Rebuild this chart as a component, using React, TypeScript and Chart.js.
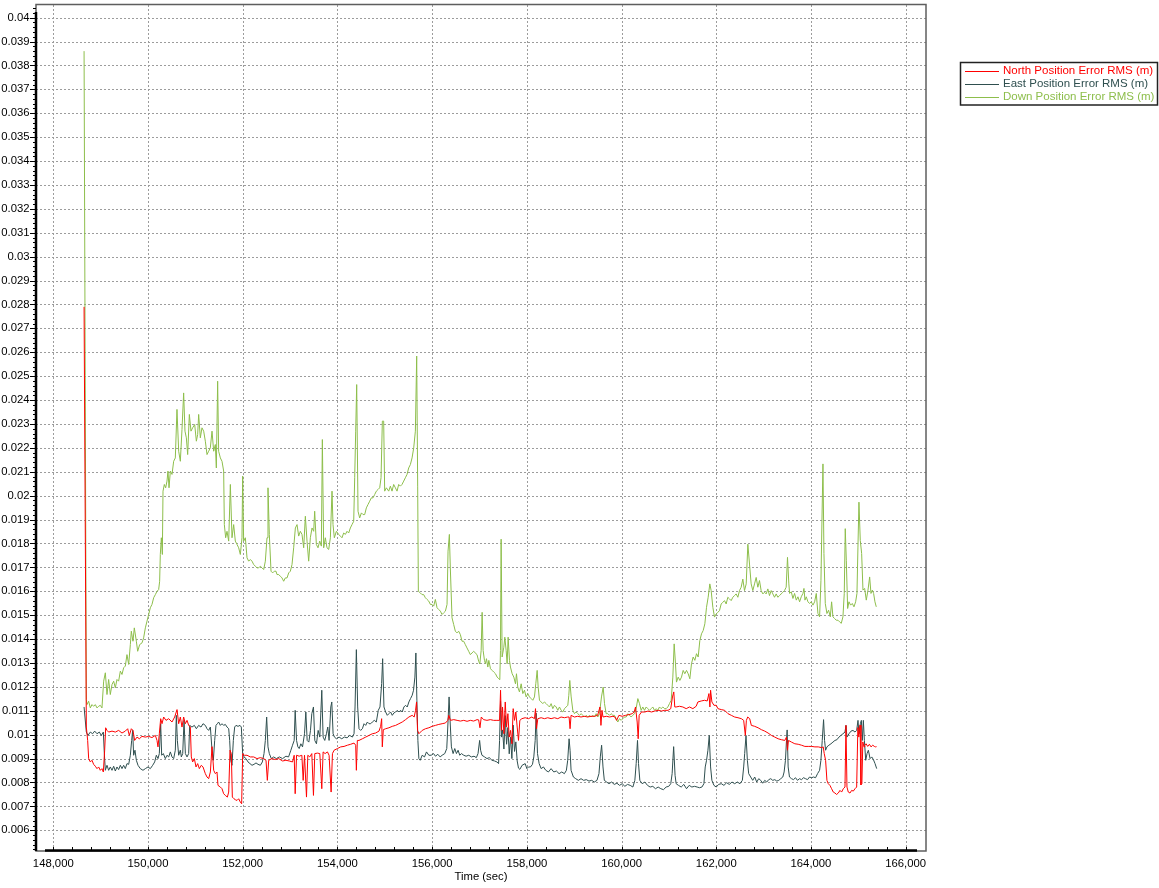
import { useEffect, useRef } from 'react';
import { Chart, registerables } from 'chart.js';

Chart.register(...registerables);

// ---- Data (time in seconds, RMS error in millimetres) ----
const northSamples: [number, number][] = [
  [148650, 27.9], [148698, 10.32], [148726, 9.76], [148747, 9.0], [148782, 8.86], [148817, 8.93], [148852, 8.76], [148888, 8.68],
  [148923, 8.58], [148958, 8.65], [148993, 8.51], [149028, 8.58], [149057, 8.44], [149085, 9.35], [149106, 10.29], [149134, 10.18],
  [149169, 10.11], [149240, 10.15], [149310, 10.11], [149380, 10.18], [149451, 10.07], [149521, 10.15], [149571, 10.25], [149606, 9.97],
  [149648, 10.25], [149683, 10.18], [149718, 9.76], [149768, 9.9], [149817, 9.83], [149873, 9.93], [149944, 9.9], [150014, 9.93],
  [150084, 9.88], [150155, 9.97], [150190, 9.76], [150211, 9.49], [150239, 10.04], [150268, 10.67], [150296, 10.46], [150331, 10.74],
  [150380, 10.6], [150437, 10.67], [150507, 10.53], [150563, 10.74], [150613, 11.05], [150648, 10.46], [150683, 10.74], [150718, 10.32],
  [150753, 10.74], [150789, 10.46], [150824, 10.6], [150859, 10.39], [150894, 10.32], [150915, 9.07], [150943, 8.86], [150979, 9.0],
  [151014, 8.65], [151049, 8.79], [151084, 8.58], [151126, 8.72], [151162, 8.65], [151211, 8.37], [151246, 8.23], [151281, 8.16],
  [151317, 8.44], [151352, 9.5], [151387, 8.51], [151422, 8.37], [151457, 8.44], [151478, 7.88], [151528, 7.81], [151563, 7.74],
  [151598, 7.53], [151633, 7.46], [151676, 7.39], [151704, 7.6], [151732, 9.35], [151760, 9.21], [151781, 7.39], [151816, 7.32],
  [151844, 7.28], [151880, 7.25], [151915, 7.32], [151950, 7.18], [151978, 7.11], [151999, 9.21], [152034, 9.14], [152091, 9.14],
  [152161, 9.07], [152232, 9.07], [152302, 9.0], [152373, 9.04], [152443, 9.0], [152492, 8.93], [152520, 8.09], [152549, 8.93],
  [152619, 9.0], [152689, 8.96], [152760, 9.0], [152842, 8.9], [152912, 8.93], [152982, 8.9], [153052, 8.86], [153087, 9.14],
  [153108, 7.53], [153137, 9.14], [153193, 9.1], [153249, 9.14], [153277, 8.09], [153305, 9.14], [153347, 7.39], [153375, 9.14],
  [153417, 9.07], [153459, 9.21], [153494, 7.46], [153522, 9.21], [153579, 9.23], [153628, 9.21], [153670, 7.74], [153698, 9.28],
  [153740, 9.21], [153789, 9.28], [153824, 9.14], [153867, 7.6], [153895, 9.21], [153930, 9.35], [154000, 9.42], [154070, 9.49],
  [154140, 9.51], [154211, 9.56], [154281, 9.6], [154351, 9.65], [154386, 9.56], [154400, 8.51], [154421, 9.76], [154456, 9.76],
  [154527, 9.83], [154597, 9.9], [154667, 9.97], [154737, 10.04], [154807, 10.07], [154878, 10.15], [154913, 10.35], [154934, 10.67],
  [154948, 9.49], [154969, 10.21], [155018, 10.25], [155088, 10.29], [155158, 10.35], [155229, 10.39], [155299, 10.46], [155369, 10.53],
  [155439, 10.63], [155509, 10.74], [155579, 10.81], [155621, 10.74], [155650, 11.02], [155671, 11.37], [155692, 10.18], [155720, 10.04],
  [155790, 10.18], [155860, 10.25], [155931, 10.29], [156000, 10.35], [156071, 10.39], [156141, 10.43], [156211, 10.46], [156281, 10.49],
  [156331, 10.6], [156352, 10.81], [156387, 10.6], [156457, 10.63], [156527, 10.6], [156597, 10.57], [156668, 10.6], [156738, 10.56],
  [156808, 10.6], [156878, 10.57], [156948, 10.63], [156982, 10.62], [157010, 10.29], [157038, 10.74], [157087, 10.63], [157158, 10.6],
  [157228, 10.63], [157298, 10.6], [157368, 10.6], [157424, 10.6], [157445, 11.86], [157466, 10.18], [157487, 11.16], [157516, 10.04],
  [157544, 11.37], [157572, 10.32], [157600, 10.88], [157628, 9.9], [157656, 10.18], [157684, 9.62], [157712, 11.09], [157740, 10.6],
  [157768, 10.95], [157796, 10.32], [157824, 9.76], [157852, 10.6], [157895, 10.67], [157965, 10.71], [158035, 10.67], [158105, 10.74],
  [158161, 10.67], [158183, 11.09], [158204, 10.25], [158232, 10.67], [158302, 10.71], [158372, 10.67], [158442, 10.71], [158512, 10.67],
  [158583, 10.71], [158653, 10.67], [158723, 10.74], [158793, 10.71], [158863, 10.74], [158892, 10.74], [158913, 10.25], [158934, 10.81],
  [159004, 10.74], [159074, 10.77], [159144, 10.74], [159214, 10.77], [159284, 10.74], [159355, 10.77], [159425, 10.77], [159495, 10.81],
  [159544, 11.16], [159565, 10.39], [159587, 11.02], [159608, 10.74], [159678, 10.77], [159748, 10.74], [159818, 10.77], [159860, 10.74],
  [159895, 10.6], [159944, 10.81], [160014, 10.77], [160084, 10.81], [160155, 10.84], [160225, 10.88], [160267, 10.95], [160295, 11.16],
  [160330, 10.53], [160351, 9.83], [160372, 10.81], [160421, 10.95], [160492, 10.95], [160562, 10.99], [160632, 10.95], [160702, 10.99],
  [160773, 11.02], [160843, 10.99], [160913, 11.02], [160983, 11.02], [161039, 11.09], [161075, 11.58], [161103, 11.79], [161124, 11.16],
  [161153, 11.16], [161223, 11.19], [161294, 11.16], [161365, 11.09], [161435, 11.16], [161506, 11.09], [161576, 11.19], [161612, 11.37],
  [161682, 11.41], [161753, 11.44], [161809, 11.41], [161845, 11.72], [161866, 11.16], [161880, 11.86], [161908, 11.37], [161951, 11.23],
  [162000, 11.23], [162035, 11.09], [162106, 11.05], [162177, 11.02], [162247, 10.88], [162318, 10.81], [162388, 10.74], [162459, 10.71],
  [162530, 10.67], [162579, 10.6], [162614, 9.97], [162636, 10.6], [162664, 10.74], [162706, 10.67], [162741, 10.39], [162812, 10.35],
  [162883, 10.29], [162953, 10.21], [163024, 10.15], [163094, 10.07], [163165, 9.97], [163236, 9.9], [163306, 9.83], [163377, 9.79],
  [163447, 9.76], [163483, 9.9], [163504, 9.35], [163525, 9.76], [163589, 9.69], [163659, 9.62], [163730, 9.6], [163800, 9.56],
  [163871, 9.51], [163942, 9.51], [164012, 9.51], [164083, 9.49], [164153, 9.49], [164224, 9.46], [164259, 9.49], [164280, 9.21],
  [164309, 8.93], [164337, 8.09], [164365, 7.95], [164400, 7.88], [164436, 7.74], [164471, 7.6], [164506, 7.56], [164541, 7.5],
  [164577, 7.56], [164612, 7.67], [164647, 7.6], [164683, 7.74], [164718, 7.81], [164739, 10.39], [164760, 7.81], [164788, 7.6],
  [164824, 7.56], [164859, 7.67], [164894, 7.64], [164930, 7.74], [164965, 7.81], [164990, 10.3], [165010, 9.9], [165036, 10.4],
  [165055, 7.9], [165075, 7.95], [165095, 9.7], [165120, 9.49], [165135, 9.56], [165163, 9.62], [165198, 9.51], [165233, 9.6],
  [165268, 9.49], [165304, 9.56], [165339, 9.51], [165360, 9.49], [165385, 9.5],
];

const eastSamples: [number, number][] = [
  [148650, 11.16], [148698, 10.11], [148733, 9.97], [148782, 10.11], [148831, 10.04], [148874, 10.15], [148923, 10.04], [148972, 10.11],
  [149014, 9.97], [149057, 10.11], [149078, 9.21], [149099, 8.51], [149134, 8.72], [149169, 8.51], [149204, 8.65], [149240, 8.51],
  [149275, 8.68], [149310, 8.48], [149345, 8.65], [149380, 8.54], [149416, 8.72], [149451, 8.58], [149486, 8.72], [149521, 8.58],
  [149556, 8.79], [149592, 8.76], [149627, 9.14], [149655, 9.76], [149676, 10.18], [149697, 9.14], [149725, 9.35], [149754, 8.93],
  [149789, 8.72], [149838, 8.58], [149894, 8.51], [149944, 8.58], [150000, 8.65], [150049, 8.58], [150099, 8.72], [150141, 8.86],
  [150176, 9.14], [150211, 9.0], [150239, 9.21], [150268, 10.46], [150289, 9.14], [150324, 9.21], [150366, 9.0], [150401, 9.14],
  [150437, 9.07], [150472, 9.28], [150507, 9.07], [150542, 9.0], [150577, 9.35], [150598, 10.81], [150620, 9.76], [150648, 9.14],
  [150683, 9.35], [150704, 9.07], [150733, 9.21], [150761, 10.6], [150789, 9.21], [150824, 9.07], [150859, 9.21], [150880, 10.39],
  [150929, 10.32], [150979, 10.39], [151021, 10.25], [151070, 10.39], [151119, 10.32], [151162, 10.46], [151211, 10.39], [151246, 10.25],
  [151281, 10.18], [151317, 10.32], [151352, 9.35], [151380, 8.93], [151408, 9.76], [151436, 10.39], [151464, 10.46], [151492, 10.53],
  [151528, 10.39], [151563, 10.46], [151598, 10.39], [151633, 10.43], [151669, 10.32], [151704, 10.25], [151725, 9.76], [151746, 8.93],
  [151774, 8.72], [151802, 9.76], [151830, 10.32], [151858, 10.39], [151901, 10.35], [151943, 10.39], [151971, 10.32], [151999, 9.21],
  [152027, 9.07], [152070, 9.0], [152112, 8.86], [152154, 8.79], [152196, 8.72], [152239, 8.76], [152281, 8.82], [152323, 8.76],
  [152373, 8.72], [152415, 8.86], [152450, 9.21], [152478, 9.76], [152506, 10.74], [152534, 9.49], [152562, 9.21], [152605, 9.0],
  [152654, 9.07], [152710, 9.0], [152774, 9.07], [152842, 9.0], [152912, 9.1], [152968, 9.07], [153017, 9.35], [153052, 9.56],
  [153087, 9.76], [153108, 11.02], [153137, 9.76], [153165, 9.49], [153193, 9.42], [153228, 9.62], [153263, 9.49], [153305, 10.04],
  [153333, 10.95], [153361, 9.76], [153396, 9.69], [153431, 10.18], [153459, 10.88], [153494, 11.16], [153522, 9.76], [153557, 9.62],
  [153593, 10.18], [153628, 9.9], [153670, 11.86], [153698, 9.9], [153733, 9.76], [153768, 10.04], [153796, 10.32], [153824, 9.76],
  [153860, 11.16], [153881, 11.37], [153909, 10.04], [153937, 9.9], [153979, 9.83], [154035, 9.9], [154091, 9.83], [154147, 9.9],
  [154204, 9.87], [154260, 9.97], [154316, 9.9], [154351, 10.04], [154372, 11.16], [154400, 13.56], [154428, 11.16], [154456, 10.25],
  [154491, 10.18], [154527, 10.25], [154562, 10.46], [154597, 10.39], [154632, 10.53], [154667, 10.46], [154702, 10.46], [154737, 10.53],
  [154779, 10.6], [154821, 10.53], [154863, 11.02], [154899, 11.16], [154934, 12.14], [154955, 13.18], [154983, 11.16], [155018, 10.95],
  [155053, 10.81], [155088, 10.88], [155123, 10.95], [155158, 10.81], [155193, 10.91], [155229, 10.95], [155264, 11.02], [155299, 10.95],
  [155334, 11.02], [155369, 10.95], [155404, 11.16], [155439, 11.23], [155474, 11.16], [155509, 11.37], [155544, 11.51], [155579, 11.65],
  [155607, 11.86], [155636, 12.41], [155657, 13.42], [155678, 11.44], [155699, 9.76], [155720, 9.0], [155748, 8.93], [155790, 9.14],
  [155839, 9.07], [155881, 9.28], [155931, 9.14], [155980, 9.14], [156029, 9.21], [156071, 9.1], [156120, 9.18], [156169, 9.07],
  [156211, 9.14], [156267, 9.21], [156309, 9.42], [156337, 10.6], [156358, 11.58], [156379, 10.6], [156407, 9.49], [156443, 9.21],
  [156478, 9.42], [156513, 9.21], [156548, 9.35], [156583, 9.14], [156618, 9.21], [156668, 9.14], [156717, 9.1], [156773, 9.14],
  [156829, 9.07], [156885, 9.1], [156934, 9.04], [156969, 9.21], [157003, 9.76], [157024, 9.35], [157052, 9.14], [157108, 9.07],
  [157158, 9.0], [157207, 9.04], [157263, 8.93], [157319, 8.9], [157368, 8.86], [157403, 8.79], [157424, 9.76], [157445, 11.4],
  [157466, 9.9], [157487, 10.2], [157516, 9.4], [157544, 10.8], [157572, 9.6], [157600, 10.3], [157628, 9.2], [157656, 9.9],
  [157684, 9.0], [157712, 10.4], [157740, 9.3], [157768, 9.7], [157796, 8.9], [157824, 8.6], [157852, 8.55], [157900, 8.72],
  [157965, 8.79], [158000, 8.58], [158035, 8.65], [158077, 8.65], [158119, 8.76], [158147, 9.07], [158176, 9.76], [158197, 10.9],
  [158225, 9.21], [158260, 8.79], [158302, 8.58], [158351, 8.65], [158400, 8.51], [158456, 8.44], [158512, 8.58], [158569, 8.44],
  [158625, 8.48], [158681, 8.37], [158737, 8.44], [158793, 8.37], [158835, 8.51], [158863, 8.93], [158892, 9.83], [158913, 9.35],
  [158934, 8.51], [158983, 8.23], [159032, 8.16], [159088, 8.09], [159144, 8.16], [159200, 8.09], [159256, 8.12], [159312, 8.06],
  [159369, 8.09], [159425, 8.02], [159481, 8.09], [159523, 8.37], [159551, 9.07], [159579, 9.56], [159608, 8.65], [159636, 8.09],
  [159685, 8.02], [159734, 7.95], [159790, 8.02], [159846, 7.92], [159902, 7.97], [159958, 7.88], [160014, 7.95], [160070, 7.84],
  [160126, 7.92], [160183, 7.88], [160239, 7.81], [160281, 8.09], [160309, 8.79], [160337, 9.76], [160358, 8.79], [160386, 8.09],
  [160435, 7.95], [160492, 8.02], [160548, 7.88], [160604, 7.81], [160660, 7.84], [160716, 7.74], [160773, 7.81], [160829, 7.74],
  [160885, 7.7], [160941, 7.81], [160997, 7.84], [161039, 7.95], [161068, 8.37], [161100, 9.5], [161130, 8.3], [161153, 7.95],
  [161202, 7.88], [161259, 7.81], [161315, 7.92], [161372, 7.74], [161428, 7.88], [161485, 7.81], [161541, 7.84], [161597, 7.81],
  [161647, 7.78], [161697, 7.81], [161739, 7.95], [161767, 8.65], [161795, 8.93], [161824, 9.35], [161852, 9.97], [161880, 8.65],
  [161908, 8.09], [161951, 7.88], [162000, 7.81], [162049, 7.92], [162106, 7.95], [162162, 7.88], [162219, 7.99], [162275, 7.92],
  [162332, 8.02], [162388, 7.95], [162445, 8.02], [162501, 7.95], [162551, 8.09], [162579, 8.65], [162600, 9.21], [162628, 9.97],
  [162657, 8.93], [162685, 8.37], [162727, 8.23], [162770, 8.09], [162812, 8.23], [162854, 8.02], [162897, 8.16], [162939, 8.09],
  [162981, 7.97], [163024, 8.09], [163066, 8.02], [163108, 8.12], [163151, 8.16], [163193, 8.09], [163236, 8.12], [163278, 8.06],
  [163320, 8.09], [163362, 8.16], [163405, 8.23], [163433, 8.44], [163461, 8.93], [163483, 9.76], [163497, 10.2], [163518, 8.65],
  [163546, 8.23], [163589, 8.16], [163631, 8.12], [163673, 8.2], [163716, 8.09], [163758, 8.16], [163800, 8.12], [163843, 8.2],
  [163885, 8.16], [163927, 8.12], [163970, 8.23], [164012, 8.2], [164054, 8.23], [164097, 8.2], [164139, 8.37], [164182, 8.51],
  [164210, 8.93], [164238, 9.76], [164266, 10.63], [164287, 9.76], [164309, 9.35], [164337, 9.49], [164379, 9.56], [164422, 9.62],
  [164464, 9.69], [164506, 9.76], [164548, 9.79], [164591, 9.9], [164633, 9.97], [164675, 10.04], [164718, 10.11], [164739, 10.39],
  [164760, 9.9], [164803, 10.04], [164845, 10.15], [164887, 10.18], [164930, 10.11], [164965, 10.18], [164993, 10.6], [165014, 10.04],
  [165043, 10.46], [165064, 10.6], [165085, 9.76], [165106, 10.6], [165128, 9.76], [165156, 8.93], [165184, 9.21], [165212, 9.35],
  [165248, 9.0], [165283, 9.07], [165318, 8.96], [165353, 8.79], [165388, 8.58],
];

const downSamples: [number, number][] = [
  [148650, 38.6], [148698, 11.47], [148712, 11.26], [148747, 11.4], [148782, 11.12], [148817, 11.26], [148852, 11.19], [148888, 11.26],
  [148923, 11.12], [148958, 11.19], [148993, 11.23], [149028, 11.12], [149064, 12.24], [149099, 12.59], [149134, 11.68], [149169, 12.31],
  [149204, 11.68], [149240, 12.1], [149275, 12.24], [149310, 11.96], [149345, 12.31], [149380, 12.24], [149416, 12.66], [149451, 12.52],
  [149486, 12.8], [149521, 12.87], [149556, 13.35], [149592, 12.94], [149627, 13.77], [149648, 14.33], [149683, 13.91], [149711, 14.47],
  [149754, 13.91], [149782, 13.49], [149824, 13.77], [149873, 13.84], [149908, 14.05], [149944, 14.47], [149979, 14.75], [150014, 15.03],
  [150049, 15.31], [150084, 15.45], [150120, 15.73], [150155, 15.86], [150190, 16.0], [150225, 16.07], [150246, 16.42], [150260, 17.54],
  [150282, 18.24], [150303, 17.54], [150317, 20.19], [150345, 20.47], [150373, 20.33], [150401, 20.61], [150422, 21.03], [150444, 20.33],
  [150472, 21.03], [150507, 20.89], [150542, 21.44], [150577, 21.58], [150612, 23.61], [150648, 21.86], [150683, 21.44], [150718, 22.77],
  [150753, 24.3], [150781, 22.7], [150810, 22.42], [150838, 21.72], [150873, 23.4], [150908, 22.7], [150943, 22.84], [150986, 22.98],
  [151021, 22.28], [151049, 22.56], [151070, 23.4], [151105, 22.42], [151140, 22.84], [151176, 22.7], [151211, 22.28], [151246, 21.72],
  [151281, 21.86], [151316, 22.0], [151352, 22.7], [151387, 21.86], [151422, 22.14], [151443, 21.16], [151471, 24.79], [151492, 21.86],
  [151528, 21.58], [151563, 21.44], [151598, 21.03], [151612, 18.79], [151640, 18.24], [151668, 18.51], [151704, 18.1], [151739, 20.47],
  [151774, 18.24], [151809, 18.79], [151844, 18.1], [151880, 17.96], [151915, 17.82], [151950, 17.54], [151985, 18.24], [151999, 20.82],
  [152020, 18.1], [152056, 18.24], [152091, 17.4], [152126, 17.26], [152161, 17.33], [152196, 17.26], [152232, 17.12], [152267, 17.05],
  [152302, 16.98], [152337, 16.98], [152372, 17.05], [152408, 16.98], [152443, 16.91], [152478, 17.26], [152513, 18.24], [152534, 20.33],
  [152562, 18.38], [152598, 16.84], [152633, 16.77], [152668, 16.84], [152703, 16.84], [152724, 16.7], [152760, 16.7], [152795, 16.63],
  [152830, 16.56], [152865, 16.42], [152900, 16.56], [152936, 16.56], [152971, 16.77], [153006, 16.84], [153041, 17.12], [153076, 17.82],
  [153112, 18.65], [153147, 18.79], [153182, 18.31], [153217, 18.51], [153252, 18.38], [153288, 17.82], [153323, 19.14], [153358, 18.1],
  [153393, 17.26], [153428, 18.24], [153464, 18.65], [153499, 18.51], [153520, 19.35], [153555, 17.96], [153590, 17.82], [153626, 18.1],
  [153661, 17.89], [153682, 22.35], [153710, 17.82], [153745, 18.24], [153780, 17.82], [153816, 17.75], [153851, 18.24], [153886, 20.19],
  [153907, 18.79], [153935, 18.24], [153978, 18.51], [154027, 18.38], [154062, 18.31], [154097, 18.24], [154132, 18.44], [154168, 18.38],
  [154203, 18.51], [154238, 18.44], [154273, 18.65], [154308, 18.79], [154344, 18.93], [154365, 20.75], [154386, 22.7], [154407, 24.65],
  [154435, 19.35], [154470, 19.07], [154506, 19.28], [154541, 19.21], [154576, 19.21], [154611, 19.49], [154646, 19.63], [154682, 19.77],
  [154717, 19.91], [154752, 19.91], [154787, 20.05], [154822, 20.19], [154858, 20.26], [154893, 20.33], [154921, 20.75], [154949, 23.12],
  [154977, 23.12], [154998, 20.19], [155034, 20.33], [155083, 20.19], [155118, 20.4], [155153, 20.19], [155188, 20.47], [155224, 20.33],
  [155259, 20.19], [155294, 20.47], [155329, 20.4], [155364, 20.47], [155400, 20.61], [155435, 20.75], [155470, 20.89], [155505, 21.16],
  [155540, 21.3], [155576, 21.58], [155611, 22.0], [155646, 22.7], [155674, 25.84], [155695, 20.4], [155709, 16.0], [155752, 15.93],
  [155787, 15.86], [155822, 15.86], [155857, 15.73], [155892, 15.66], [155928, 15.59], [155963, 15.45], [155998, 15.45], [156033, 15.38],
  [156068, 15.66], [156104, 15.31], [156139, 15.24], [156174, 15.17], [156209, 15.03], [156244, 15.1], [156280, 15.17], [156315, 15.45],
  [156336, 17.68], [156364, 18.38], [156384, 16.98], [156420, 14.89], [156455, 14.61], [156490, 14.33], [156525, 14.26], [156560, 14.33],
  [156596, 14.19], [156631, 13.91], [156666, 13.91], [156701, 13.77], [156736, 13.63], [156772, 13.49], [156807, 13.35], [156842, 13.42],
  [156877, 13.49], [156948, 13.35], [156983, 13.07], [157007, 12.96], [157035, 13.52], [157056, 15.12], [157077, 13.52], [157105, 13.11],
  [157126, 12.97], [157148, 13.18], [157176, 12.83], [157197, 13.11], [157232, 12.76], [157267, 12.69], [157302, 12.62], [157338, 12.55],
  [157373, 12.41], [157408, 12.34], [157429, 12.3], [157443, 13.52], [157457, 18.18], [157478, 13.25], [157514, 13.66], [157535, 14.08],
  [157563, 13.52], [157584, 12.97], [157605, 14.08], [157633, 13.11], [157654, 12.83], [157690, 12.55], [157725, 12.41], [157760, 12.13],
  [157781, 12.55], [157809, 11.99], [157844, 11.79], [157880, 12.13], [157915, 11.72], [157950, 11.86], [157985, 11.58], [158020, 11.72],
  [158056, 11.58], [158091, 11.51], [158126, 11.44], [158161, 11.58], [158189, 12.13], [158218, 12.69], [158239, 11.99], [158267, 11.44],
  [158302, 11.37], [158337, 11.3], [158372, 11.37], [158408, 11.3], [158443, 11.23], [158478, 11.16], [158513, 11.3], [158548, 11.09],
  [158584, 11.23], [158619, 11.16], [158654, 11.02], [158689, 11.16], [158724, 11.02], [158760, 10.95], [158795, 11.09], [158830, 11.16],
  [158865, 11.23], [158886, 11.65], [158907, 12.27], [158936, 11.58], [158971, 11.02], [159006, 10.88], [159041, 10.95], [159076, 10.88],
  [159112, 10.81], [159147, 10.88], [159182, 10.81], [159217, 10.74], [159252, 10.81], [159288, 10.74], [159323, 10.81], [159358, 10.74],
  [159393, 10.81], [159428, 10.74], [159464, 10.88], [159499, 10.74], [159534, 10.88], [159576, 11.58], [159612, 11.99], [159640, 11.3],
  [159675, 10.88], [159710, 10.88], [159745, 10.81], [159780, 10.88], [159816, 10.81], [159851, 10.81], [159886, 10.67], [159921, 10.53],
  [159956, 10.67], [159992, 10.6], [160027, 10.67], [160062, 10.74], [160097, 10.74], [160132, 10.88], [160168, 10.81], [160203, 10.74],
  [160238, 10.81], [160273, 10.88], [160308, 11.09], [160344, 11.51], [160379, 11.3], [160414, 11.02], [160449, 11.16], [160484, 11.02],
  [160520, 11.16], [160555, 11.09], [160590, 11.02], [160625, 11.09], [160660, 11.16], [160696, 11.02], [160731, 11.09], [160766, 11.02],
  [160801, 11.16], [160836, 11.09], [160872, 11.16], [160907, 11.09], [160942, 11.09], [160977, 11.16], [161012, 11.3], [161048, 11.44],
  [161083, 12.41], [161111, 13.8], [161139, 12.97], [161160, 12.2], [161196, 12.41], [161231, 12.27], [161266, 12.41], [161301, 12.69],
  [161336, 12.55], [161372, 12.69], [161407, 12.55], [161442, 12.34], [161477, 12.97], [161512, 13.25], [161548, 13.11], [161583, 13.39],
  [161618, 13.25], [161653, 13.94], [161688, 14.22], [161724, 14.36], [161759, 14.64], [161794, 15.33], [161829, 15.75], [161864, 16.31],
  [161892, 16.03], [161928, 15.33], [161963, 14.92], [161998, 15.05], [162033, 15.12], [162068, 15.19], [162104, 15.47], [162139, 15.54],
  [162174, 15.61], [162209, 15.47], [162244, 15.75], [162280, 15.68], [162315, 15.61], [162350, 15.75], [162385, 15.82], [162420, 15.89],
  [162456, 15.75], [162491, 16.03], [162526, 16.17], [162561, 16.51], [162596, 16.03], [162632, 16.31], [162667, 17.97], [162702, 17.14],
  [162737, 16.31], [162772, 16.03], [162808, 16.31], [162843, 16.58], [162878, 16.17], [162913, 16.45], [162948, 16.03], [162984, 15.89],
  [163019, 15.96], [163054, 15.89], [163089, 16.1], [163124, 15.82], [163160, 16.03], [163195, 15.89], [163230, 15.75], [163265, 15.89],
  [163300, 15.75], [163336, 15.82], [163371, 15.89], [163406, 15.96], [163441, 16.03], [163476, 16.17], [163504, 17.42], [163533, 16.31],
  [163549, 15.91], [163584, 15.98], [163619, 15.7], [163654, 15.91], [163690, 15.63], [163725, 15.77], [163760, 15.56], [163795, 15.77],
  [163830, 15.91], [163852, 16.12], [163873, 15.63], [163901, 15.77], [163936, 15.56], [163971, 15.49], [164006, 15.56], [164042, 15.42],
  [164077, 15.56], [164112, 15.91], [164147, 15.07], [164182, 14.93], [164211, 16.46], [164232, 18.97], [164253, 21.33], [164274, 17.58],
  [164302, 15.49], [164337, 15.07], [164372, 15.21], [164408, 14.93], [164436, 15.56], [164464, 14.93], [164499, 14.86], [164534, 14.79],
  [164570, 14.79], [164605, 14.72], [164640, 14.66], [164675, 14.93], [164703, 15.91], [164724, 18.62], [164746, 17.3], [164774, 15.28],
  [164802, 15.56], [164837, 15.42], [164872, 15.49], [164908, 15.35], [164943, 15.56], [164971, 15.91], [164992, 17.85], [165013, 19.73],
  [165041, 18.13], [165070, 17.58], [165098, 16.05], [165133, 16.12], [165168, 15.63], [165204, 16.05], [165239, 16.6], [165267, 15.91],
  [165295, 16.05], [165323, 15.91], [165351, 15.56], [165379, 15.35],
];

const seriesLabels = ['North Position Error RMS (m)', 'East Position Error RMS (m)', 'Down Position Error RMS (m)'];
const seriesColors = ['#ff0000', '#2f4f4f', '#8dbe4b'];
const xTitle = 'Time (sec)';
const xTickValues = [148000, 150000, 152000, 154000, 156000, 158000, 160000, 162000, 164000, 166000];

const X_MIN = 147635;
const X_MAX = 166429;
const Y_MIN = 0.005134;
const Y_MAX = 0.04053;

const FONT_FAMILY = '"Liberation Sans", Arial, Helvetica, sans-serif';

const toPoints = (s: [number, number][]) => s.map(([t, v]) => ({ x: t, y: v / 1000 }));

const decorPlugin = {
  id: 'decor',
  beforeDatasetsDraw(chart: any) {
    const { ctx, chartArea: a, scales } = chart;
    const x = scales.x;
    const y = scales.y;
    ctx.save();
    ctx.strokeStyle = '#9c9c9c';
    ctx.lineWidth = 1;
    ctx.setLineDash([2, 2]);
    x.ticks.forEach((t: any) => {
      const px = Math.round(x.getPixelForValue(t.value)) + 0.5;
      ctx.beginPath();
      ctx.moveTo(px, a.top);
      ctx.lineTo(px, a.bottom);
      ctx.stroke();
    });
    y.ticks.forEach((t: any) => {
      const py = Math.round(y.getPixelForValue(t.value)) + 0.5;
      ctx.beginPath();
      ctx.moveTo(a.left, py);
      ctx.lineTo(a.right, py);
      ctx.stroke();
    });
    ctx.restore();
  },
  afterDatasetsDraw(chart: any) {
    const { ctx, chartArea: a, scales } = chart;
    const x = scales.x;
    const y = scales.y;
    ctx.save();
    ctx.strokeStyle = '#5e5e5e';
    ctx.lineWidth = 1.5;
    ctx.strokeRect(a.left, a.top - 0.5, a.right - a.left, a.bottom - a.top + 0.5);
    ctx.strokeStyle = '#000';
    ctx.lineWidth = 2.5;
    ctx.beginPath();
    ctx.moveTo(a.left, a.top + 7);
    ctx.lineTo(a.left, a.bottom);
    ctx.stroke();
    ctx.beginPath();
    ctx.moveTo(a.left + 9, a.bottom - 0.5);
    ctx.lineTo(a.right - 9, a.bottom - 0.5);
    ctx.stroke();
    ctx.lineWidth = 1;
    y.ticks.forEach((t: any) => {
      const py = Math.round(y.getPixelForValue(t.value)) + 0.5;
      ctx.beginPath();
      ctx.moveTo(a.left - 6, py);
      ctx.lineTo(a.left, py);
      ctx.stroke();
    });
    for (let v = 0.0052; v < Y_MAX; v += 0.0002) {
      const py = Math.round(y.getPixelForValue(v)) + 0.5;
      ctx.beginPath();
      ctx.moveTo(a.left - 3, py);
      ctx.lineTo(a.left, py);
      ctx.stroke();
    }
    for (let v = 148000; v <= 166000; v += 400) {
      const px = Math.round(x.getPixelForValue(v)) + 0.5;
      ctx.beginPath();
      ctx.moveTo(px, a.bottom - 4);
      ctx.lineTo(px, a.bottom);
      ctx.stroke();
    }
    ctx.restore();
  },
  afterDraw(chart: any) {
    const { ctx } = chart;
    ctx.save();
    ctx.fillStyle = '#fff';
    ctx.fillRect(960, 62, 198, 43);
    ctx.strokeStyle = '#222';
    ctx.lineWidth = 1.5;
    ctx.strokeRect(960.5, 62.5, 197, 42.5);
    ctx.font = `11.5px ${FONT_FAMILY}`;
    ctx.textBaseline = 'middle';
    ctx.textAlign = 'left';
    const rows = [70.5, 83.5, 97];
    seriesLabels.forEach((label, i) => {
      ctx.strokeStyle = seriesColors[i];
      ctx.lineWidth = 1;
      ctx.beginPath();
      ctx.moveTo(965, Math.round(rows[i]) + 0.5);
      ctx.lineTo(999, Math.round(rows[i]) + 0.5);
      ctx.stroke();
      ctx.fillStyle = seriesColors[i];
      ctx.fillText(label, 1003, rows[i]);
    });
    ctx.restore();
  },
};

export default function App() {
  const ref = useRef<HTMLCanvasElement>(null);
  useEffect(() => {
    if (!ref.current) return;
    const samples = [northSamples, eastSamples, downSamples];
    const chart = new Chart(ref.current, {
      type: 'line',
      data: {
        datasets: samples.map((s, i) => ({
          label: seriesLabels[i],
          data: toPoints(s),
          borderColor: seriesColors[i],
          backgroundColor: seriesColors[i],
          borderWidth: 1,
          pointRadius: 0,
          tension: 0,
          fill: false,
        })),
      },
      options: {
        responsive: false,
        animation: false,
        devicePixelRatio: 1,
        layout: { padding: { left: 0, right: 233, top: 5, bottom: 0 } },
        plugins: { legend: { display: false }, tooltip: { enabled: false }, title: { display: false } },
        scales: {
          x: {
            type: 'linear',
            min: X_MIN,
            max: X_MAX,
            grid: { display: false, drawTicks: false },
            border: { display: false },
            ticks: {
              autoSkip: false,
              maxRotation: 0,
              padding: 6,
              color: '#000',
              font: { family: FONT_FAMILY, size: 11.3 },
              callback: (v: any) => Number(v).toLocaleString('en-US'),
            },
            afterBuildTicks: (s: any) => { s.ticks = xTickValues.map((v) => ({ value: v })); },
            title: {
              display: true,
              text: xTitle,
              color: '#000',
              font: { family: FONT_FAMILY, size: 11.3 },
              padding: { top: 0, bottom: 4.4 },
            },
            afterFit: (s: any) => { s.height = 37; s.paddingLeft = 0; s.paddingRight = 0; },
          },
          y: {
            type: 'linear',
            min: Y_MIN,
            max: Y_MAX,
            grid: { display: false, drawTicks: false },
            border: { display: false },
            ticks: {
              stepSize: 0.001,
              includeBounds: false,
              autoSkip: false,
              maxTicksLimit: 100,
              padding: 6.5,
              color: '#000',
              font: { family: FONT_FAMILY, size: 11.3 },
              callback: (v: any) => String(Number(Number(v).toFixed(3))),
            },
            afterFit: (s: any) => { s.width = 36; s.paddingTop = 0; s.paddingBottom = 0; },
          },
        },
      },
      plugins: [decorPlugin],
    } as any);
    return () => chart.destroy();
  }, []);
  return (
    <div style={{ position: 'fixed', left: 0, top: 0, width: 1159, height: 888, background: '#fff' }}>
      <canvas ref={ref} width={1159} height={888} style={{ width: 1159, height: 888, display: 'block' }} />
    </div>
  );
}
